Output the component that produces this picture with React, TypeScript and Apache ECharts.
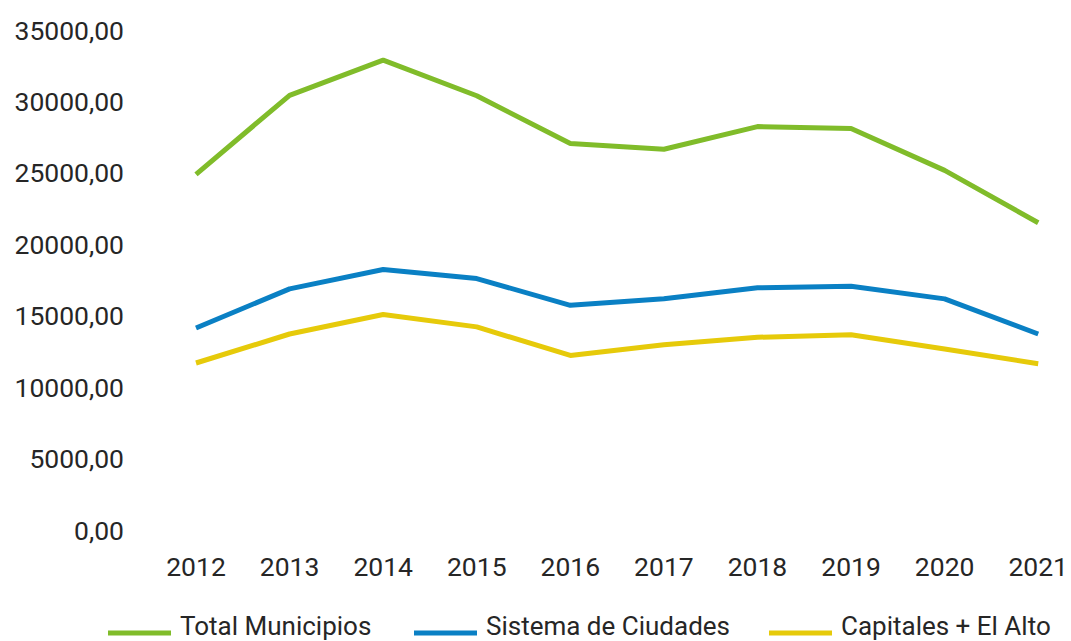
import React, { useEffect, useRef } from "react";
import * as echarts from "echarts";

const categories = ["2012", "2013", "2014", "2015", "2016", "2017", "2018", "2019", "2020", "2021"];
const totalMunicipios = [24900, 30430, 32890, 30400, 27050, 26650, 28240, 28100, 25175, 21510];
const sistemaCiudades = [14140, 16880, 18230, 17600, 15730, 16180, 16950, 17060, 16180, 13720];
const capitalesElAlto = [11690, 13720, 15080, 14220, 12220, 12970, 13490, 13670, 12670, 11640];
const seriesNames = ["Total Municipios", "Sistema de Ciudades", "Capitales + El Alto"];
const colors = ["#80BC2A", "#0A80C4", "#E6CA0A"];

const FONT = "Roboto";
const FONT_SIZE = 26.5;
const TEXT_COLOR = "#262626";

export default function App() {
  const ref = useRef<HTMLDivElement>(null);
  useEffect(() => {
    if (!ref.current) return;
    const chart = echarts.init(ref.current, undefined, { renderer: "svg" });
    const data = [totalMunicipios, sistemaCiudades, capitalesElAlto];
    const legendLefts = [108, 414, 769];
    chart.setOption({
      animation: false,
      grid: { left: 196, right: 30, top: 30, height: 500, containLabel: false },
      legend: seriesNames.map((n, i) => ({
        data: [n],
        left: legendLefts[i],
        top: 613,
        padding: 0,
        icon: "path://M0,0M0,14L63,14L63,19L0,19Z",
        itemWidth: 63,
        itemHeight: 19,
        itemGap: 0,
        textStyle: {
          fontFamily: FONT,
          fontSize: 26,
          color: TEXT_COLOR,
          padding: [0, 0, 0, 4],
        },
      })),
      xAxis: {
        type: "category",
        data: categories,
        boundaryGap: false,
        axisLine: { show: false },
        axisTick: { show: false },
        splitLine: { show: false },
        axisLabel: {
          margin: 23,
          fontFamily: FONT,
          fontSize: FONT_SIZE,
          color: TEXT_COLOR,
        },
      },
      yAxis: {
        type: "value",
        min: 0,
        max: 35000,
        interval: 5000,
        axisLine: { show: false },
        axisTick: { show: false },
        splitLine: { show: false },
        axisLabel: {
          margin: 72,
          fontFamily: FONT,
          fontSize: FONT_SIZE,
          color: TEXT_COLOR,
          formatter: (v: number) => v.toFixed(2).replace(".", ","),
        },
      },
      series: data.map((d, i) => ({
        name: seriesNames[i],
        type: "line",
        data: d,
        showSymbol: false,
        symbol: "none",
        lineStyle: { color: colors[i], width: 5 },
        itemStyle: { color: colors[i] },
      })),
    });
    return () => chart.dispose();
  }, []);
  return <div ref={ref} style={{ width: 1071, height: 641, position: "absolute", left: 0, top: 0 }} />;
}
